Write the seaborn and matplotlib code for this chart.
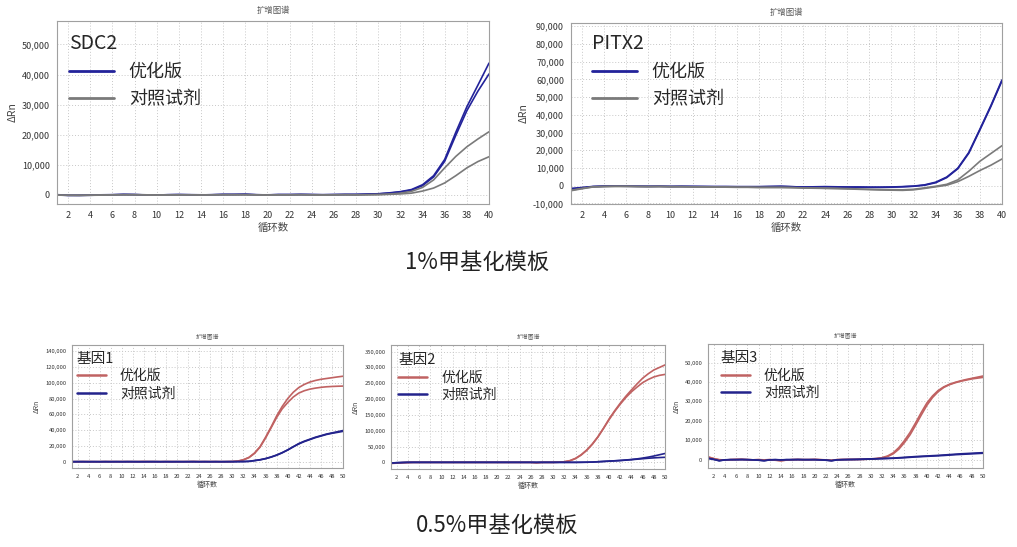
import numpy as np
import pandas as pd
import seaborn as sns
import matplotlib.pyplot as plt
from matplotlib.ticker import StrMethodFormatter

# ---- dados ----
reagentes = ["优化版", "对照试剂"]

ciclos_40 = list(range(1, 41))
ciclos_50 = list(range(1, 51))

# SDC2 (1%)
sdc2_opt_a = [100, -100, -150, -100, 0, 50, 200, 150, 0, -50, 100, 150, 50, 0, 100, 200, 150, 250, 100, 0,
              150, 100, 200, 150, 50, 100, 200, 150, 300, 400, 700, 1100, 1800, 3400, 6400, 11800, 20800, 29300, 36500, 43800]
sdc2_opt_b = [0, -150, -100, -50, 50, 100, 150, 100, 50, 0, 50, 100, 100, 50, 50, 150, 200, 200, 50, 50,
              100, 150, 150, 100, 100, 150, 150, 200, 250, 350, 600, 1000, 1600, 3100, 6000, 11200, 19800, 28000, 34500, 40200]
sdc2_ctl_a = [0, -100, -100, -50, 0, 50, 100, 100, 50, 0, 0, 50, 50, 0, 50, 100, 100, 100, 50, 0,
              50, 50, 100, 50, 0, 50, 100, 50, 100, 150, 300, 600, 1200, 2500, 5000, 9000, 12800, 16000, 18600, 21000]
sdc2_ctl_b = [-50, -100, -150, -100, -50, 0, 50, 50, 0, -50, 0, 0, 50, 0, 0, 50, 50, 50, 0, -50,
              0, 0, 50, 0, -50, 0, 50, 0, 50, 100, 200, 350, 600, 1300, 2300, 4000, 6400, 9000, 11100, 12700]

# PITX2 (1%)
pitx2_opt_a = [-1500, -1000, -400, -200, -200, -300, -300, -400, -300, -400, -400, -400, -500, -500, -500, -600, -600, -500, -400, -300,
               -500, -800, -600, -500, -600, -700, -700, -800, -800, -700, -500, -200, 500, 2000, 4900, 9900, 18800, 31900, 45300, 59700]
pitx2_opt_b = [-2000, -1200, -500, -300, -200, -200, -300, -300, -300, -400, -300, -400, -400, -500, -500, -500, -500, -600, -500, -400,
               -600, -700, -700, -600, -700, -800, -800, -900, -900, -800, -600, -300, 300, 1700, 4600, 9600, 18400, 31500, 44800, 59200]
pitx2_ctl_a = [-2500, -1500, -600, -400, -300, -300, -400, -500, -400, -500, -500, -600, -600, -700, -700, -800, -800, -900, -900, -900,
               -1000, -1200, -1300, -1400, -1500, -1600, -1800, -2000, -2100, -2200, -2300, -2000, -1200, -300, 800, 3300, 8200, 13800, 18200, 22600]
pitx2_ctl_b = [-2800, -1700, -700, -500, -400, -400, -500, -500, -500, -600, -600, -700, -700, -800, -800, -900, -900, -1000, -1000, -1000,
               -1100, -1300, -1400, -1500, -1600, -1800, -2000, -2200, -2400, -2500, -2600, -2300, -1500, -600, 300, 2300, 5300, 8600, 11600, 15100]

# 基因1 (0.5%)
g1_opt_a = [0, 0, 100, 0, -100, 0, 100, 0, 0, 100, 0, 0, 100, 200, 100, 0, 0, 100, 0, 0,
            100, 0, 200, 100, 0, 100, 0, 0, 100, 200, 800, 2500, 5500, 11000, 19000, 31000, 44000, 58000, 70000, 80000,
            88000, 94000, 98000, 101000, 103000, 104500, 105500, 106500, 107500, 108400]
g1_opt_b = [0, 0, 0, 100, 0, 0, 0, 100, 0, 0, 100, 0, 0, 100, 0, 100, 0, 0, 100, 0,
            0, 100, 100, 0, 100, 0, 100, 0, 0, 200, 700, 2300, 5200, 10500, 18500, 30000, 43000, 56000, 67000, 75000,
            82000, 87000, 90000, 92000, 93300, 94300, 95000, 95400, 95700, 95900]
g1_ctl_a = [0, 100, 0, 0, 100, 0, 0, 0, 100, 0, 0, 100, 0, 0, 0, 100, 0, 0, 0, 100,
            0, 0, 100, 0, 0, 0, 100, 0, 0, 100, 100, 200, 500, 1500, 2500, 4000, 6000, 8500, 11500, 15000,
            19000, 23000, 26000, 28500, 31000, 33000, 35000, 36500, 38000, 39500]
g1_ctl_b = [0, 0, 100, 0, 0, 0, 100, 0, 0, 0, 100, 0, 0, 0, 100, 0, 0, 100, 0, 0,
            0, 100, 0, 0, 100, 0, 0, 0, 100, 0, 100, 200, 400, 1300, 2300, 3800, 5800, 8200, 11200, 14800,
            18800, 22500, 25500, 28000, 30500, 32500, 34500, 36000, 37200, 38500]

# 基因2 (0.5%)
g2_opt_a = [-3000, -2000, -1000, -500, 0, 0, 0, 0, 0, 0, 0, 0, 0, 0, 0, 0, 0, 0, 0, 0,
            0, 0, 0, 0, 0, 0, -1500, 0, 0, 0, 500, 2000, 5500, 12600, 24000, 39000, 58000, 81000, 108000, 137000,
            163000, 187000, 209000, 229000, 248000, 266000, 280000, 292000, 300000, 308000]
g2_opt_b = [-3500, -2500, -1200, -500, 0, 0, 0, 0, 0, 0, 0, 0, 0, 0, 0, 0, 0, 0, 0, 0,
            0, 0, 0, 0, 0, 0, -1000, 0, 0, 0, 500, 1800, 5000, 12000, 23000, 38000, 57000, 80000, 107000, 135000,
            161000, 184000, 205000, 223000, 238000, 252000, 262000, 270000, 275000, 278000]
g2_ctl_a = [-2000, -1000, -500, 0, 0, 0, 0, 0, 0, 0, 0, 0, 0, 0, 0, 0, 0, 0, 0, 0,
            0, 0, 0, 0, 0, 0, 0, 0, 0, 0, 0, 0, 0, 0, 200, 500, 1000, 2000, 3000, 4000,
            5000, 6000, 7500, 9000, 11000, 13500, 16500, 20000, 24000, 28000]
g2_ctl_b = [-2500, -1200, -500, 0, 0, 0, 0, 0, 0, 0, 0, 0, 0, 0, 0, 0, 0, 0, 0, 0,
            0, 0, 0, 0, 0, 0, 0, 0, 0, 0, 0, 0, 0, 0, 200, 400, 800, 1800, 2800, 3800,
            4800, 5800, 7000, 8500, 10000, 11500, 13000, 14200, 15200, 16000]

# 基因3 (0.5%)
g3_opt_a = [1500, 600, 0, -200, 0, 100, 200, 0, -100, 0, -200, 0, -300, -600, -200, 0, 100, 0, 0, 100,
            0, -200, -400, 0, 100, 100, 100, 200, 200, 400, 600, 1000, 1900, 3500, 6200, 9800, 14000, 19000, 24300, 29200,
            32800, 35600, 37500, 38800, 39800, 40600, 41300, 41900, 42500, 43100]
g3_opt_b = [1300, 500, -100, -200, 0, 100, 100, 0, -100, 0, -100, 0, -200, -500, -200, 0, 0, 0, 0, 100,
            0, -100, -300, 0, 0, 100, 100, 100, 200, 300, 500, 900, 1600, 3000, 5400, 8800, 12800, 17800, 23000, 28000,
            32000, 35000, 37200, 38600, 39600, 40400, 41000, 41600, 42000, 42400]
g3_ctl_a = [800, 200, -600, -100, 0, 0, 100, 0, -100, -300, -600, -100, 0, -200, 0, 0, 100, 0, 0, 0,
            -100, -300, -600, -100, 0, 100, 100, 200, 300, 400, 500, 600, 700, 800, 1000, 1200, 1400, 1600, 1750, 1900,
            2050, 2200, 2400, 2600, 2800, 3000, 3150, 3300, 3450, 3600]
g3_ctl_b = [600, 100, -500, -100, 0, 0, 0, 0, -100, -200, -500, -100, 0, -100, 0, 0, 0, 0, 0, 0,
            -100, -200, -500, -100, 0, 0, 100, 100, 200, 300, 400, 500, 600, 700, 850, 1000, 1200, 1400, 1550, 1700,
            1850, 2000, 2150, 2350, 2550, 2700, 2850, 3000, 3150, 3300]

# ---- estilo ----
sns.set_theme(style="white")
plt.rcParams['font.family'] = ['Noto Sans CJK SC', 'DejaVu Sans']
plt.rcParams['axes.unicode_minus'] = False

W, H = 1017, 547
fig = plt.figure(figsize=(W / 100, H / 100), dpi=100)


def caixa(l, t, r, b):
    return [l / W, 1 - b / H, (r - l) / W, (b - t) / H]


def montar(ciclos, opt_a, opt_b, ctl_a, ctl_b):
    partes = []
    for nome, reag, vals in [("a", reagentes[0], opt_a), ("b", reagentes[0], opt_b),
                             ("c", reagentes[1], ctl_a), ("d", reagentes[1], ctl_b)]:
        partes.append(pd.DataFrame({"循环数": ciclos, "ΔRn": vals, "试剂": reag, "孔": nome}))
    return pd.concat(partes, ignore_index=True)


paineis = [
    # gene, caixa, dados, cores, ylim, yticks, xmax, grande
    ("SDC2", (57, 21, 489, 204), montar(ciclos_40, sdc2_opt_a, sdc2_opt_b, sdc2_ctl_a, sdc2_ctl_b),
     ["#23239a", "#7a7a7a"], (-3000, 57800), np.arange(0, 50001, 10000), 40, True, (0.028, 0.935)),
    ("PITX2", (571, 23, 1002, 204), montar(ciclos_40, pitx2_opt_a, pitx2_opt_b, pitx2_ctl_a, pitx2_ctl_b),
     ["#23239a", "#7a7a7a"], (-10300, 91800), np.arange(-10000, 90001, 10000), 40, True, (0.049, 0.945)),
    ("基因1", (72, 345, 343, 468), montar(ciclos_50, g1_opt_a, g1_opt_b, g1_ctl_a, g1_ctl_b),
     ["#c06262", "#23238c"], (-8000, 148000), np.arange(0, 140001, 20000), 50, False, (0.018, 0.945)),
    ("基因2", (391, 345, 665, 469), montar(ciclos_50, g2_opt_a, g2_opt_b, g2_ctl_a, g2_ctl_b),
     ["#c06262", "#23238c"], (-21000, 371000), np.arange(0, 350001, 50000), 50, False, (0.026, 0.935)),
    ("基因3", (708, 344, 983, 468), montar(ciclos_50, g3_opt_a, g3_opt_b, g3_ctl_a, g3_ctl_b),
     ["#c06262", "#23238c"], (-4300, 59600), np.arange(0, 50001, 10000), 50, False, (0.047, 0.944)),
]

for gene, bx, df, cores, ylim, yticks, xmax, grande, ancora in paineis:
    ax = fig.add_axes(caixa(*bx))
    sns.lineplot(data=df, x="循环数", y="ΔRn", hue="试剂", hue_order=reagentes, units="孔",
                 estimator=None, palette=cores, linewidth=1.2, ax=ax)
    ax.set_xlim(1, xmax)
    ax.set_ylim(*ylim)
    ax.set_xticks(np.arange(2, xmax + 1, 2))
    ax.set_yticks(yticks)
    ax.yaxis.set_major_formatter(StrMethodFormatter('{x:,.0f}'))
    ax.grid(True, linestyle=(0, (1, 2)), color="#c8c8c8", linewidth=0.7)
    for s in ax.spines.values():
        s.set_color("#a0a0a0")
        s.set_linewidth(0.8)

    tam_tick = 6.5 if grande else 4.2
    tam_lab = 7.5 if grande else 5
    ax.tick_params(axis="both", direction="out", length=3 if grande else 2, width=0.6,
                   color="#888888", labelsize=tam_tick, labelcolor="#333333", pad=2)
    ax.set_xlabel("循环数", fontsize=tam_lab, color="#444444", labelpad=2)
    ax.set_ylabel("ΔRn", fontsize=tam_lab, color="#444444", labelpad=3)
    ax.set_title("扩增图谱", fontsize=6 if grande else 4.2, color="#555555", pad=6 if grande else 5)

    sns.move_legend(ax, "upper left", bbox_to_anchor=ancora, title=gene, frameon=False,
                    fontsize=13 if grande else 10, title_fontsize=14 if grande else 10.5,
                    alignment="left", handlelength=2.5 if grande else 2.1,
                    handletextpad=0.8 if grande else 1.0, labelspacing=0.5 if grande else 0.25,
                    borderpad=0, borderaxespad=0)
    leg = ax.get_legend()
    for h in leg.legend_handles:
        h.set_linewidth(2.0 if grande else 1.8)

fig.text(477 / W, 1 - 262 / H, "1%甲基化模板", ha="center", va="center", fontsize=16, color="#222222")
fig.text(497 / W, 1 - 525 / H, "0.5%甲基化模板", ha="center", va="center", fontsize=16, color="#222222")

fig.savefig("out.png", dpi=100)
